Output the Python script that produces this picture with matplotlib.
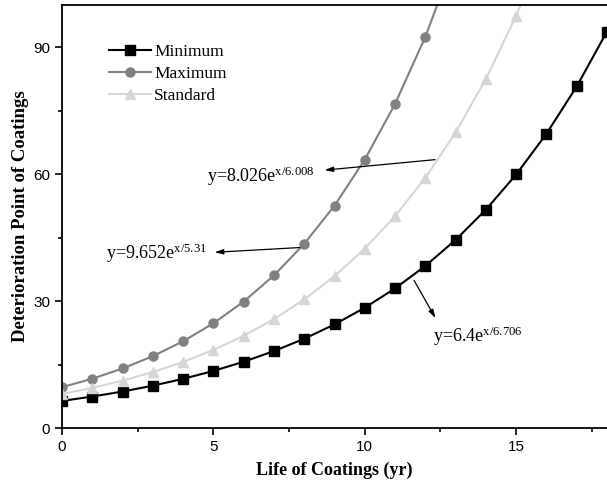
import matplotlib
matplotlib.use("Agg")
import matplotlib.pyplot as plt
from matplotlib.ticker import MultipleLocator

plt.rcParams["mathtext.fontset"] = "custom"
plt.rcParams["mathtext.rm"] = "Liberation Serif"
plt.rcParams["mathtext.it"] = "Liberation Serif"

# values (markers at each year)
years_min = [0, 1, 2, 3, 4, 5, 6, 7, 8, 9, 10, 11, 12, 13, 14, 15, 16, 17, 18]
minimum = [6.4, 7.43, 8.62, 10.01, 11.62, 13.49, 15.66, 18.18, 21.10, 24.49,
           28.43, 33.00, 38.31, 44.47, 51.62, 59.93, 69.56, 80.75, 93.73]
years_max = [0, 1, 2, 3, 4, 5, 6, 7, 8, 9, 10, 11, 12, 13]
maximum = [9.65, 11.65, 14.07, 16.98, 20.50, 24.75, 29.88, 36.07, 43.54,
           52.56, 63.46, 76.61, 92.48, 111.6]
years_std = [0, 1, 2, 3, 4, 5, 6, 7, 8, 9, 10, 11, 12, 13, 14, 15, 16]
standard = [8.03, 9.48, 11.20, 13.22, 15.62, 18.45, 21.79, 25.73, 30.39,
            35.90, 42.40, 50.08, 59.15, 69.86, 82.51, 97.45, 115.1]

labels = ["Minimum", "Maximum", "Standard"]
fits = [r"y=6.4e$^{\mathrm{x/6.706}}$",
        r"y=9.652e$^{\mathrm{x/5.31}}$",
        r"y=8.026e$^{\mathrm{x/6.008}}$"]

fig = plt.figure(figsize=(6.07, 4.88), dpi=100)
ax = fig.add_axes([62 / 607, 60 / 488, 545 / 607, 423 / 488])

ax.plot(years_min, minimum, color="black", lw=1.5, marker="s", ms=6.5, label=labels[0])
ax.plot(years_max, maximum, color="#808080", lw=1.5, marker="o", ms=6.5, label=labels[1])
ax.plot(years_std, standard, color="#d6d6d6", lw=1.5, marker="^", ms=7.5, label=labels[2])

ax.set_xlim(0, 18)
ax.set_ylim(0, 100)
ax.xaxis.set_major_locator(MultipleLocator(5))
ax.xaxis.set_minor_locator(MultipleLocator(2.5))
ax.yaxis.set_major_locator(MultipleLocator(30))
ax.yaxis.set_minor_locator(MultipleLocator(15))
ax.tick_params(which="major", direction="out", length=5, width=1.2,
               labelsize=11, labelfontfamily="Liberation Sans")
ax.tick_params(which="minor", direction="out", length=3, width=1.2)
for s in ["left", "bottom", "top"]:
    ax.spines[s].set_linewidth(1.3)
ax.spines["right"].set_visible(False)

ax.set_xlabel("Life of Coatings (yr)", family="Liberation Serif",
              fontweight="bold", fontsize=13, labelpad=6)
ax.set_ylabel("Deterioration Point of Coatings", family="Liberation Serif",
              fontweight="bold", fontsize=13.5, labelpad=3)

ax.legend(loc="upper left", bbox_to_anchor=(0.058, 0.945), frameon=False,
          prop={"family": "Liberation Serif", "size": 12.5},
          handlelength=2.4, labelspacing=0.33, handletextpad=0.2)

arrow = dict(arrowstyle="-|>,head_length=0.5,head_width=0.15", color="black", lw=0.9)
ax.annotate("", xy=(12.38, 25.4), xytext=(11.58, 35.5), arrowprops=arrow)
ax.text(12.24, 21.6, fits[0], family="Liberation Serif", fontsize=13, va="center")
ax.annotate("", xy=(4.95, 41.5), xytext=(7.95, 42.7), arrowprops=arrow)
ax.text(1.45, 41.4, fits[1], family="Liberation Serif", fontsize=13, va="center")
ax.annotate("", xy=(8.58, 60.9), xytext=(12.41, 63.5), arrowprops=arrow)
ax.text(4.8, 59.6, fits[2], family="Liberation Serif", fontsize=13, va="center")

fig.savefig("out.png", dpi=100)
